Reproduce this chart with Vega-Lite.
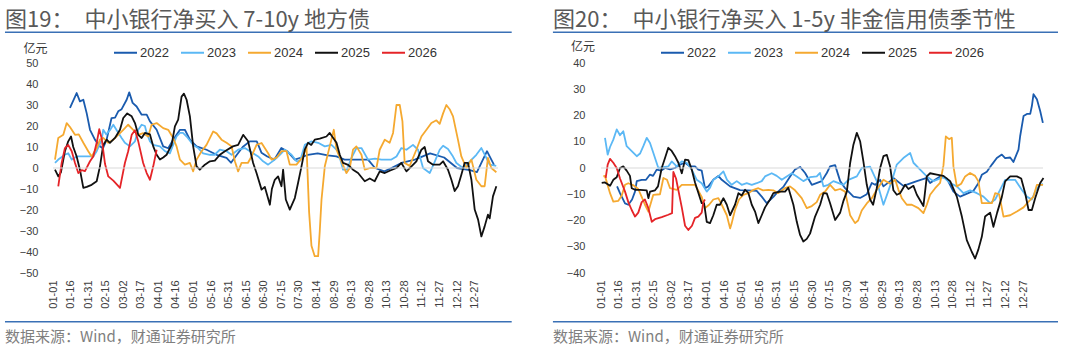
{
  "$schema": "https://vega.github.io/schema/vega-lite/v6.json",
  "background": "white",
  "padding": {"left": 4, "top": 8, "right": 0, "bottom": 0},
  "spacing": 103,
  "bounds": "flush",
  "config": {
    "view": {"stroke": null},
    "axis": {"labelFont": "Liberation Sans", "labelFontSize": 11, "labelColor": "#404040", "labelOverlap": false, "labelFlush": false, "domain": false, "ticks": false, "tickSize": 0, "grid": false, "title": null},
    "legend": {"labelFont": "Liberation Sans", "labelFontSize": 13, "labelColor": "#333333"}
  },
  "resolve": {"scale": {"x": "independent", "y": "independent", "color": "independent"}, "legend": {"color": "independent"}},
  "hconcat": [
    {
      "width": 445,
      "height": 210,
      "title": {"text": "图19：　中小银行净买入 7-10y 地方债", "anchor": "start", "frame": "group", "dx": -48, "offset": 0, "font": "Noto Sans CJK SC", "fontSize": 22, "fontWeight": "normal", "color": "#595959"},
      "layer": [
        {
          "data": {"values": [
            {"d":14.5,"v":28.6,"s":"2022"},{"d":20.2,"v":35.7,"s":"2022"},{"d":23,"v":31.7,"s":"2022"},{"d":25.9,"v":32.5,"s":"2022"},{"d":28.8,"v":26,"s":"2022"},{"d":31.6,"v":18.2,"s":"2022"},{"d":35.8,"v":13.5,"s":"2022"},{"d":40.1,"v":10.3,"s":"2022"},{"d":42.7,"v":9.4,"s":"2022"},{"d":45.8,"v":13.5,"s":"2022"},{"d":50,"v":23.8,"s":"2022"},{"d":53,"v":24,"s":"2022"},{"d":55.7,"v":27,"s":"2022"},{"d":58.6,"v":28,"s":"2022"},{"d":62.9,"v":32.5,"s":"2022"},{"d":65.1,"v":36,"s":"2022"},{"d":68,"v":31,"s":"2022"},{"d":71.4,"v":29.3,"s":"2022"},{"d":75.7,"v":25.4,"s":"2022"},{"d":80,"v":25.4,"s":"2022"},{"d":82.8,"v":22.2,"s":"2022"},{"d":88.5,"v":18.2,"s":"2022"},{"d":94.1,"v":10.3,"s":"2022"},{"d":98.4,"v":9.4,"s":"2022"},{"d":102.6,"v":13.5,"s":"2022"},{"d":108.4,"v":18.2,"s":"2022"},{"d":112.6,"v":18.2,"s":"2022"},{"d":116.9,"v":13.5,"s":"2022"},{"d":122.6,"v":10.3,"s":"2022"},{"d":131.1,"v":8.7,"s":"2022"},{"d":139.7,"v":6.3,"s":"2022"},{"d":148.2,"v":4.8,"s":"2022"},{"d":152,"v":2.5,"s":"2022"},{"d":157,"v":6.3,"s":"2022"},{"d":162,"v":10,"s":"2022"},{"d":168,"v":12.7,"s":"2022"},{"d":174,"v":12.7,"s":"2022"},{"d":178,"v":7.3,"s":"2022"},{"d":183,"v":5.5,"s":"2022"},{"d":189,"v":4,"s":"2022"},{"d":195,"v":9.5,"s":"2022"},{"d":200,"v":8,"s":"2022"},{"d":206.5,"v":4,"s":"2022"},{"d":212,"v":5,"s":"2022"},{"d":217.6,"v":6.3,"s":"2022"},{"d":226,"v":7,"s":"2022"},{"d":234.6,"v":6,"s":"2022"},{"d":242,"v":5.5,"s":"2022"},{"d":249,"v":4,"s":"2022"},{"d":260,"v":4,"s":"2022"},{"d":269,"v":4,"s":"2022"},{"d":275,"v":0,"s":"2022"},{"d":283,"v":-1.6,"s":"2022"},{"d":289,"v":0,"s":"2022"},{"d":297.5,"v":2.4,"s":"2022"},{"d":309,"v":4,"s":"2022"},{"d":322,"v":7,"s":"2022"},{"d":334,"v":5,"s":"2022"},{"d":345,"v":0,"s":"2022"},{"d":356,"v":-1,"s":"2022"},{"d":362,"v":-2,"s":"2022"},{"d":370.6,"v":8,"s":"2022"},{"d":376.6,"v":1.5,"s":"2022"},
            {"d":1.7,"v":2.4,"s":"2023"},{"d":4.5,"v":4,"s":"2023"},{"d":10.2,"v":6.3,"s":"2023"},{"d":13,"v":7,"s":"2023"},{"d":16,"v":4,"s":"2023"},{"d":20.2,"v":5.5,"s":"2023"},{"d":25,"v":5.5,"s":"2023"},{"d":30,"v":5.5,"s":"2023"},{"d":34.4,"v":5.5,"s":"2023"},{"d":37.3,"v":8,"s":"2023"},{"d":41.6,"v":13.5,"s":"2023"},{"d":42.9,"v":18.2,"s":"2023"},{"d":45.5,"v":16,"s":"2023"},{"d":48.6,"v":18,"s":"2023"},{"d":51.5,"v":20.6,"s":"2023"},{"d":54.4,"v":18,"s":"2023"},{"d":58.6,"v":14.3,"s":"2023"},{"d":61.4,"v":12,"s":"2023"},{"d":65.7,"v":10.3,"s":"2023"},{"d":70,"v":12.7,"s":"2023"},{"d":72.8,"v":18.2,"s":"2023"},{"d":75.7,"v":20.6,"s":"2023"},{"d":78.5,"v":20,"s":"2023"},{"d":80,"v":16.7,"s":"2023"},{"d":82.8,"v":12.7,"s":"2023"},{"d":85.6,"v":11,"s":"2023"},{"d":91.3,"v":10.3,"s":"2023"},{"d":95.6,"v":8,"s":"2023"},{"d":99.8,"v":7,"s":"2023"},{"d":102.6,"v":11,"s":"2023"},{"d":105.5,"v":15,"s":"2023"},{"d":108.4,"v":16.7,"s":"2023"},{"d":111,"v":16.7,"s":"2023"},{"d":114.1,"v":15,"s":"2023"},{"d":117,"v":13,"s":"2023"},{"d":119.7,"v":11,"s":"2023"},{"d":124,"v":9.5,"s":"2023"},{"d":128.2,"v":7,"s":"2023"},{"d":134,"v":6.3,"s":"2023"},{"d":138,"v":6.3,"s":"2023"},{"d":142.5,"v":8.7,"s":"2023"},{"d":148.2,"v":8,"s":"2023"},{"d":152.5,"v":6.3,"s":"2023"},{"d":158.1,"v":8.7,"s":"2023"},{"d":163.8,"v":9.5,"s":"2023"},{"d":169.5,"v":7.5,"s":"2023"},{"d":175.2,"v":5.5,"s":"2023"},{"d":179.4,"v":3.2,"s":"2023"},{"d":183.7,"v":1.6,"s":"2023"},{"d":189.4,"v":4,"s":"2023"},{"d":193.7,"v":6.3,"s":"2023"},{"d":198,"v":8.7,"s":"2023"},{"d":203.7,"v":6.3,"s":"2023"},{"d":207.9,"v":3.2,"s":"2023"},{"d":211,"v":3.5,"s":"2023"},{"d":215,"v":11,"s":"2023"},{"d":220.7,"v":12.7,"s":"2023"},{"d":226.4,"v":12,"s":"2023"},{"d":232.1,"v":10.3,"s":"2023"},{"d":237.8,"v":11,"s":"2023"},{"d":243.4,"v":8,"s":"2023"},{"d":247.7,"v":-0.8,"s":"2023"},{"d":251,"v":-0.8,"s":"2023"},{"d":254.9,"v":4.8,"s":"2023"},{"d":259.1,"v":9.5,"s":"2023"},{"d":263.4,"v":9.5,"s":"2023"},{"d":269,"v":4,"s":"2023"},{"d":275,"v":4.5,"s":"2023"},{"d":280.5,"v":4,"s":"2023"},{"d":289,"v":4,"s":"2023"},{"d":293.3,"v":5.5,"s":"2023"},{"d":297.5,"v":9.5,"s":"2023"},{"d":301.8,"v":8.7,"s":"2023"},{"d":307.4,"v":11,"s":"2023"},{"d":311.7,"v":8.7,"s":"2023"},{"d":316,"v":0,"s":"2023"},{"d":321.7,"v":-2.4,"s":"2023"},{"d":326,"v":3,"s":"2023"},{"d":330.2,"v":8.7,"s":"2023"},{"d":333.1,"v":10.6,"s":"2023"},{"d":337.3,"v":9,"s":"2023"},{"d":341,"v":6,"s":"2023"},{"d":344.5,"v":2.4,"s":"2023"},{"d":350,"v":0,"s":"2023"},{"d":355.8,"v":3,"s":"2023"},{"d":361.5,"v":6.3,"s":"2023"},{"d":365.8,"v":9.5,"s":"2023"},{"d":369,"v":6,"s":"2023"},{"d":372.9,"v":1.6,"s":"2023"},{"d":378.5,"v":1,"s":"2023"},
            {"d":1.7,"v":4,"s":"2024"},{"d":4.5,"v":14.3,"s":"2024"},{"d":8.8,"v":15.8,"s":"2024"},{"d":11.7,"v":21.4,"s":"2024"},{"d":14.5,"v":19.5,"s":"2024"},{"d":18.8,"v":15.8,"s":"2024"},{"d":22,"v":16,"s":"2024"},{"d":25.9,"v":12,"s":"2024"},{"d":30.1,"v":8,"s":"2024"},{"d":33,"v":5.5,"s":"2024"},{"d":37.3,"v":9.5,"s":"2024"},{"d":40.1,"v":13.5,"s":"2024"},{"d":42.9,"v":14.3,"s":"2024"},{"d":47.2,"v":12,"s":"2024"},{"d":51.5,"v":13.5,"s":"2024"},{"d":55.7,"v":15.8,"s":"2024"},{"d":60,"v":18.2,"s":"2024"},{"d":64.2,"v":20.6,"s":"2024"},{"d":68.5,"v":18.2,"s":"2024"},{"d":72.8,"v":15.8,"s":"2024"},{"d":77,"v":16.6,"s":"2024"},{"d":81.3,"v":15,"s":"2024"},{"d":84.2,"v":20.6,"s":"2024"},{"d":88.5,"v":21.4,"s":"2024"},{"d":94.1,"v":19,"s":"2024"},{"d":98.4,"v":18.2,"s":"2024"},{"d":102.6,"v":14.3,"s":"2024"},{"d":105.5,"v":10.3,"s":"2024"},{"d":108.4,"v":4,"s":"2024"},{"d":112.6,"v":1.6,"s":"2024"},{"d":116.9,"v":2.4,"s":"2024"},{"d":119.7,"v":-1.6,"s":"2024"},{"d":122.6,"v":4,"s":"2024"},{"d":126.9,"v":8,"s":"2024"},{"d":131.1,"v":11,"s":"2024"},{"d":136.8,"v":17.4,"s":"2024"},{"d":139.7,"v":16.5,"s":"2024"},{"d":143.9,"v":13.5,"s":"2024"},{"d":148.2,"v":12,"s":"2024"},{"d":152.5,"v":10.3,"s":"2024"},{"d":155.3,"v":3.2,"s":"2024"},{"d":158.1,"v":-1.6,"s":"2024"},{"d":161,"v":2.4,"s":"2024"},{"d":166.4,"v":2.4,"s":"2024"},{"d":169.5,"v":5.5,"s":"2024"},{"d":173.8,"v":11,"s":"2024"},{"d":178.1,"v":11.9,"s":"2024"},{"d":183.7,"v":7,"s":"2024"},{"d":186.6,"v":4,"s":"2024"},{"d":191,"v":5,"s":"2024"},{"d":195.1,"v":8,"s":"2024"},{"d":199.4,"v":8,"s":"2024"},{"d":202.2,"v":1.6,"s":"2024"},{"d":207.9,"v":1.6,"s":"2024"},{"d":213,"v":5,"s":"2024"},{"d":216.5,"v":10,"s":"2024"},{"d":218.7,"v":-21,"s":"2024"},{"d":220.7,"v":-37,"s":"2024"},{"d":223.5,"v":-42,"s":"2024"},{"d":226.4,"v":-42,"s":"2024"},{"d":227.8,"v":-30,"s":"2024"},{"d":229.3,"v":-15,"s":"2024"},{"d":232.1,"v":0.8,"s":"2024"},{"d":236.3,"v":10.3,"s":"2024"},{"d":239.8,"v":18.2,"s":"2024"},{"d":242.1,"v":8.7,"s":"2024"},{"d":246.3,"v":3.2,"s":"2024"},{"d":250.6,"v":-2.4,"s":"2024"},{"d":253.4,"v":0,"s":"2024"},{"d":256.2,"v":8.7,"s":"2024"},{"d":259.1,"v":10.3,"s":"2024"},{"d":263.4,"v":6.3,"s":"2024"},{"d":266.2,"v":-0.8,"s":"2024"},{"d":271,"v":0,"s":"2024"},{"d":276.2,"v":0,"s":"2024"},{"d":279,"v":8.7,"s":"2024"},{"d":283.3,"v":13.5,"s":"2024"},{"d":287.5,"v":12,"s":"2024"},{"d":290.4,"v":16.7,"s":"2024"},{"d":293.3,"v":30,"s":"2024"},{"d":296.1,"v":30,"s":"2024"},{"d":298.4,"v":22.2,"s":"2024"},{"d":300.3,"v":2.4,"s":"2024"},{"d":304.6,"v":1,"s":"2024"},{"d":310.3,"v":8.7,"s":"2024"},{"d":314.6,"v":15,"s":"2024"},{"d":318.9,"v":18.2,"s":"2024"},{"d":323.1,"v":21.4,"s":"2024"},{"d":327.4,"v":22.7,"s":"2024"},{"d":330.2,"v":21,"s":"2024"},{"d":333.1,"v":26,"s":"2024"},{"d":335.9,"v":30,"s":"2024"},{"d":338.7,"v":28,"s":"2024"},{"d":341.6,"v":24.6,"s":"2024"},{"d":345.8,"v":13.5,"s":"2024"},{"d":348.7,"v":5.5,"s":"2024"},{"d":353,"v":0,"s":"2024"},{"d":357.3,"v":4,"s":"2024"},{"d":361.5,"v":-5.6,"s":"2024"},{"d":365.8,"v":-8.7,"s":"2024"},{"d":368.6,"v":-8.7,"s":"2024"},{"d":371.4,"v":4.8,"s":"2024"},{"d":374.3,"v":0,"s":"2024"},{"d":378.6,"v":-2,"s":"2024"},
            {"d":1.7,"v":-0.8,"s":"2025"},{"d":4.5,"v":-4,"s":"2025"},{"d":6.8,"v":-2,"s":"2025"},{"d":10.2,"v":8,"s":"2025"},{"d":13,"v":12.7,"s":"2025"},{"d":15.4,"v":15,"s":"2025"},{"d":17.3,"v":10,"s":"2025"},{"d":20.2,"v":5.5,"s":"2025"},{"d":23,"v":-0.8,"s":"2025"},{"d":25.9,"v":-9.5,"s":"2025"},{"d":28.8,"v":-9,"s":"2025"},{"d":33,"v":-8,"s":"2025"},{"d":37.3,"v":-6.3,"s":"2025"},{"d":40.1,"v":0.8,"s":"2025"},{"d":42.9,"v":11,"s":"2025"},{"d":45.8,"v":13.5,"s":"2025"},{"d":48.6,"v":12,"s":"2025"},{"d":52.9,"v":14.3,"s":"2025"},{"d":57.2,"v":18.2,"s":"2025"},{"d":60,"v":23.8,"s":"2025"},{"d":63.4,"v":26,"s":"2025"},{"d":67.2,"v":24.6,"s":"2025"},{"d":70,"v":21.4,"s":"2025"},{"d":72.8,"v":15.8,"s":"2025"},{"d":75.7,"v":14.3,"s":"2025"},{"d":78.5,"v":16.7,"s":"2025"},{"d":82.8,"v":16,"s":"2025"},{"d":85.6,"v":10.3,"s":"2025"},{"d":88.5,"v":6.3,"s":"2025"},{"d":91.3,"v":4,"s":"2025"},{"d":94.1,"v":5,"s":"2025"},{"d":97,"v":6.3,"s":"2025"},{"d":101.3,"v":11,"s":"2025"},{"d":104.1,"v":19.8,"s":"2025"},{"d":106.9,"v":23,"s":"2025"},{"d":109.8,"v":34,"s":"2025"},{"d":111.8,"v":35.4,"s":"2025"},{"d":114.1,"v":32.5,"s":"2025"},{"d":116.9,"v":24.6,"s":"2025"},{"d":119.7,"v":10.3,"s":"2025"},{"d":122.6,"v":0.8,"s":"2025"},{"d":125.4,"v":-0.8,"s":"2025"},{"d":129.7,"v":1.6,"s":"2025"},{"d":134,"v":3.2,"s":"2025"},{"d":138.2,"v":3.5,"s":"2025"},{"d":142.5,"v":6.3,"s":"2025"},{"d":146.8,"v":8,"s":"2025"},{"d":153.6,"v":10.3,"s":"2025"},{"d":158.1,"v":11,"s":"2025"},{"d":162.4,"v":15.8,"s":"2025"},{"d":166.6,"v":12.7,"s":"2025"},{"d":170.9,"v":2.4,"s":"2025"},{"d":173.8,"v":-2.4,"s":"2025"},{"d":178.1,"v":-10.3,"s":"2025"},{"d":180.9,"v":-9,"s":"2025"},{"d":185.2,"v":-17.5,"s":"2025"},{"d":186.9,"v":-10,"s":"2025"},{"d":189.4,"v":-5.6,"s":"2025"},{"d":192.2,"v":-4,"s":"2025"},{"d":195.1,"v":-8.7,"s":"2025"},{"d":196.5,"v":-0.8,"s":"2025"},{"d":198.8,"v":-15,"s":"2025"},{"d":202.2,"v":-19.8,"s":"2025"},{"d":206.5,"v":-14.3,"s":"2025"},{"d":209.3,"v":-7,"s":"2025"},{"d":212.2,"v":0.8,"s":"2025"},{"d":215,"v":8.7,"s":"2025"},{"d":217.8,"v":12,"s":"2025"},{"d":220.5,"v":11,"s":"2025"},{"d":223.5,"v":13.5,"s":"2025"},{"d":227.8,"v":14,"s":"2025"},{"d":233.5,"v":15,"s":"2025"},{"d":236.3,"v":16.7,"s":"2025"},{"d":242.1,"v":12,"s":"2025"},{"d":244.9,"v":6.3,"s":"2025"},{"d":247.7,"v":2.4,"s":"2025"},{"d":252,"v":1.5,"s":"2025"},{"d":256.2,"v":-0.8,"s":"2025"},{"d":260.5,"v":-2.4,"s":"2025"},{"d":266.2,"v":-6.3,"s":"2025"},{"d":270.5,"v":-5,"s":"2025"},{"d":274.7,"v":-6.3,"s":"2025"},{"d":279,"v":-1.6,"s":"2025"},{"d":283.3,"v":-2.4,"s":"2025"},{"d":287.5,"v":-1.3,"s":"2025"},{"d":293.3,"v":0,"s":"2025"},{"d":297.5,"v":2.4,"s":"2025"},{"d":301.8,"v":-1.6,"s":"2025"},{"d":306.1,"v":0.8,"s":"2025"},{"d":310.3,"v":3.2,"s":"2025"},{"d":314.6,"v":8.7,"s":"2025"},{"d":317.4,"v":10,"s":"2025"},{"d":320.2,"v":3.2,"s":"2025"},{"d":324.5,"v":1.6,"s":"2025"},{"d":330.2,"v":1.6,"s":"2025"},{"d":333.1,"v":3.2,"s":"2025"},{"d":337.3,"v":-0.8,"s":"2025"},{"d":340.2,"v":-5.6,"s":"2025"},{"d":343,"v":-11,"s":"2025"},{"d":345.8,"v":-8.7,"s":"2025"},{"d":348.7,"v":-3.2,"s":"2025"},{"d":351.5,"v":2.4,"s":"2025"},{"d":354.4,"v":2.4,"s":"2025"},{"d":357.3,"v":-5.6,"s":"2025"},{"d":360.1,"v":-19.8,"s":"2025"},{"d":363,"v":-24.6,"s":"2025"},{"d":365.8,"v":-32.6,"s":"2025"},{"d":368.6,"v":-27.8,"s":"2025"},{"d":371.4,"v":-22.2,"s":"2025"},{"d":372.9,"v":-24,"s":"2025"},{"d":375.7,"v":-13.5,"s":"2025"},{"d":378.6,"v":-8.7,"s":"2025"},
            {"d":4.5,"v":-8.7,"s":"2026"},{"d":7.4,"v":2.4,"s":"2026"},{"d":10.2,"v":9.5,"s":"2026"},{"d":13,"v":11,"s":"2026"},{"d":16,"v":8,"s":"2026"},{"d":18.8,"v":2.4,"s":"2026"},{"d":21.6,"v":-2.4,"s":"2026"},{"d":24.5,"v":-1,"s":"2026"},{"d":27.3,"v":-1.5,"s":"2026"},{"d":31.6,"v":3.2,"s":"2026"},{"d":34.4,"v":5.5,"s":"2026"},{"d":37.3,"v":12,"s":"2026"},{"d":39.5,"v":18.5,"s":"2026"},{"d":41.6,"v":14,"s":"2026"},{"d":44.4,"v":2,"s":"2026"},{"d":47.2,"v":-4,"s":"2026"},{"d":51.5,"v":-6,"s":"2026"},{"d":57.2,"v":-9.5,"s":"2026"},{"d":61.4,"v":2.4,"s":"2026"},{"d":64.2,"v":8,"s":"2026"},{"d":67.2,"v":15.8,"s":"2026"},{"d":70,"v":18,"s":"2026"},{"d":72.8,"v":12.7,"s":"2026"},{"d":77,"v":2.4,"s":"2026"},{"d":80,"v":-2.4,"s":"2026"},{"d":82.8,"v":-5.6,"s":"2026"},{"d":85.6,"v":0.8,"s":"2026"},{"d":88.5,"v":8.7,"s":"2026"}
          ]},
          "mark": {"type": "line", "strokeWidth": 1.8, "strokeJoin": "round", "clip": false},
          "encoding": {
            "x": {"field": "d", "type": "quantitative", "scale": {"domain": [0, 380], "nice": false, "zero": false},
              "axis": {"values": [0,15,30,45,60,75,90,105,120,135,150,165,180,195,210,225,240,255,270,285,300,315,330,345,360], "tickCount": 40,
                "labelExpr": "['01-01','01-16','01-31','02-15','03-02','03-17','04-01','04-16','05-01','05-16','05-31','06-15','06-30','07-15','07-30','08-14','08-29','09-13','09-28','10-13','10-28','11-12','11-27','12-12','12-27'][round(datum.value/15)]",
                "labelAngle": 270, "labelPadding": 7}},
            "y": {"field": "v", "type": "quantitative", "scale": {"domain": [-50, 50], "nice": false, "zero": false},
              "axis": {"values": [-50,-40,-30,-20,-10,0,10,20,30,40,50], "tickCount": 20, "labelPadding": 15}},
            "color": {"field": "s", "type": "nominal",
              "scale": {"domain": ["2022","2023","2024","2025","2026"], "range": ["#1A5BAE","#5BB8F5","#F5A930","#111111","#E52428"]},
              "legend": {"orient": "none", "legendX": 60, "legendY": -23, "direction": "horizontal", "title": null, "symbolType": "stroke", "symbolSize": 529, "symbolStrokeWidth": 2, "labelOffset": 2, "columnPadding": 8, "padding": 0}}
          }
        },
        {
          "data": {"values": [{}]},
          "mark": {"type": "rule", "color": "#D9D9D9", "strokeWidth": 1, "clip": false},
          "encoding": {"x": {"datum": 0}, "x2": {"datum": 380}, "y": {"datum": 0}}
        },
        {
          "data": {"values": [{}]},
          "mark": {"type": "rule", "color": "#3A70B5", "strokeWidth": 1.5, "clip": false},
          "encoding": {"x": {"datum": -41}, "x2": {"datum": 391.7}, "y": {"datum": 64.6}}
        },
        {
          "data": {"values": [{}]},
          "mark": {"type": "rule", "color": "#3A70B5", "strokeWidth": 1.5, "clip": false},
          "encoding": {"x": {"datum": -41}, "x2": {"datum": 391.7}, "y": {"datum": -73.2}}
        },
        {
          "data": {"values": [{}]},
          "mark": {"type": "text", "text": "数据来源：Wind，财通证券研究所", "align": "left", "baseline": "middle", "font": "Noto Sans CJK SC", "fontSize": 15, "color": "#7F7F7F", "clip": false},
          "encoding": {"x": {"datum": -41}, "y": {"datum": -80.3}}
        },
        {
          "data": {"values": [{}]},
          "mark": {"type": "text", "text": "亿元", "align": "center", "baseline": "middle", "font": "Noto Sans CJK SC", "fontSize": 12, "color": "#333333", "clip": false},
          "encoding": {"x": {"datum": -15}, "y": {"datum": 56.6}}
        }
      ]
    },
    {
      "width": 442,
      "height": 210,
      "title": {"text": "图20：　中小银行净买入 1-5y 非金信用债季节性", "anchor": "start", "frame": "group", "dx": -48, "offset": 0, "font": "Noto Sans CJK SC", "fontSize": 22, "fontWeight": "normal", "color": "#595959"},
      "layer": [
        {
          "data": {"values": [
            {"d":13.7,"v":-7,"s":"2022"},{"d":16.2,"v":-9.6,"s":"2022"},{"d":20.5,"v":-13.5,"s":"2022"},{"d":23.3,"v":-14,"s":"2022"},{"d":26.5,"v":-12,"s":"2022"},{"d":29,"v":-9,"s":"2022"},{"d":30.5,"v":-5,"s":"2022"},{"d":34.7,"v":-4.5,"s":"2022"},{"d":38.4,"v":-4.5,"s":"2022"},{"d":41.8,"v":-2.5,"s":"2022"},{"d":44.4,"v":-3,"s":"2022"},{"d":47.5,"v":-0.6,"s":"2022"},{"d":51.2,"v":-1,"s":"2022"},{"d":54.6,"v":0,"s":"2022"},{"d":58.9,"v":-0.5,"s":"2022"},{"d":63.1,"v":0,"s":"2022"},{"d":67.4,"v":1.3,"s":"2022"},{"d":71.7,"v":2,"s":"2022"},{"d":75.9,"v":0.6,"s":"2022"},{"d":80.2,"v":0.6,"s":"2022"},{"d":83,"v":-0.6,"s":"2022"},{"d":85.9,"v":-1,"s":"2022"},{"d":88.7,"v":-7.7,"s":"2022"},{"d":91.6,"v":-7,"s":"2022"},{"d":95.8,"v":-4.5,"s":"2022"},{"d":100.1,"v":-3,"s":"2022"},{"d":103,"v":-4.5,"s":"2022"},{"d":110.1,"v":-7,"s":"2022"},{"d":118.6,"v":-8.4,"s":"2022"},{"d":125.4,"v":-8.5,"s":"2022"},{"d":132.8,"v":-8.7,"s":"2022"},{"d":137.1,"v":-10.9,"s":"2022"},{"d":141.4,"v":-13.4,"s":"2022"},{"d":147,"v":-11,"s":"2022"},{"d":151,"v":-9,"s":"2022"},{"d":155.5,"v":-7.2,"s":"2022"},{"d":161.3,"v":-3.2,"s":"2022"},{"d":165.5,"v":-0.6,"s":"2022"},{"d":169.8,"v":0.4,"s":"2022"},{"d":174.1,"v":-1.9,"s":"2022"},{"d":179.8,"v":-6.4,"s":"2022"},{"d":188.3,"v":-5,"s":"2022"},{"d":192.6,"v":-1.9,"s":"2022"},{"d":195.4,"v":0.6,"s":"2022"},{"d":199.7,"v":1.1,"s":"2022"},{"d":204,"v":-5,"s":"2022"},{"d":208.2,"v":-7.7,"s":"2022"},{"d":215.3,"v":-10.9,"s":"2022"},{"d":221,"v":-11.4,"s":"2022"},{"d":226.7,"v":-10,"s":"2022"},{"d":231,"v":-5.7,"s":"2022"},{"d":233.8,"v":-6.4,"s":"2022"},{"d":238.1,"v":-4.5,"s":"2022"},{"d":240.9,"v":-7,"s":"2022"},{"d":246.6,"v":-5,"s":"2022"},{"d":249.4,"v":-3.8,"s":"2022"},{"d":257.9,"v":-6.8,"s":"2022"},{"d":269.4,"v":-5,"s":"2022"},{"d":277.9,"v":-3.8,"s":"2022"},{"d":280.7,"v":-5.7,"s":"2022"},{"d":289.2,"v":-3.2,"s":"2022"},{"d":295,"v":-4,"s":"2022"},{"d":300.6,"v":-9,"s":"2022"},{"d":306.3,"v":-10.9,"s":"2022"},{"d":317.7,"v":-8.7,"s":"2022"},{"d":322,"v":-5.7,"s":"2022"},{"d":324.8,"v":-2.6,"s":"2022"},{"d":329.1,"v":-1.4,"s":"2022"},{"d":333.4,"v":1.3,"s":"2022"},{"d":337.6,"v":3.8,"s":"2022"},{"d":341.9,"v":5.1,"s":"2022"},{"d":344.7,"v":3.8,"s":"2022"},{"d":349,"v":4,"s":"2022"},{"d":351.8,"v":2.3,"s":"2022"},{"d":356.1,"v":7,"s":"2022"},{"d":357.5,"v":12.1,"s":"2022"},{"d":360.4,"v":19.8,"s":"2022"},{"d":363.3,"v":20.6,"s":"2022"},{"d":366.1,"v":20.6,"s":"2022"},{"d":367.5,"v":23.6,"s":"2022"},{"d":368.9,"v":28.1,"s":"2022"},{"d":371.8,"v":26.2,"s":"2022"},{"d":374.6,"v":21.7,"s":"2022"},{"d":376.9,"v":17.2,"s":"2022"},
            {"d":3.4,"v":11.5,"s":"2023"},{"d":5.7,"v":5.1,"s":"2023"},{"d":7.7,"v":8,"s":"2023"},{"d":10.5,"v":10.8,"s":"2023"},{"d":13.4,"v":14.7,"s":"2023"},{"d":16.2,"v":12.5,"s":"2023"},{"d":19,"v":14,"s":"2023"},{"d":21.9,"v":8.3,"s":"2023"},{"d":26.2,"v":6.4,"s":"2023"},{"d":30.5,"v":4.5,"s":"2023"},{"d":33.3,"v":5.5,"s":"2023"},{"d":36.1,"v":8.3,"s":"2023"},{"d":39,"v":11.5,"s":"2023"},{"d":41.8,"v":9.5,"s":"2023"},{"d":44.6,"v":5.8,"s":"2023"},{"d":48.9,"v":0,"s":"2023"},{"d":53.2,"v":0.3,"s":"2023"},{"d":57.4,"v":0.6,"s":"2023"},{"d":60.3,"v":2.5,"s":"2023"},{"d":64.6,"v":0.6,"s":"2023"},{"d":68.9,"v":2.5,"s":"2023"},{"d":73.1,"v":2,"s":"2023"},{"d":77.4,"v":-0.6,"s":"2023"},{"d":81.7,"v":-4.5,"s":"2023"},{"d":85.9,"v":-5.8,"s":"2023"},{"d":90.2,"v":-9,"s":"2023"},{"d":93,"v":-7.5,"s":"2023"},{"d":95.8,"v":-4.5,"s":"2023"},{"d":100.1,"v":-3.2,"s":"2023"},{"d":104.4,"v":-1.3,"s":"2023"},{"d":107.5,"v":-4.5,"s":"2023"},{"d":111.5,"v":-6.4,"s":"2023"},{"d":115.8,"v":-5,"s":"2023"},{"d":120,"v":-6.4,"s":"2023"},{"d":124.3,"v":-5.8,"s":"2023"},{"d":128.6,"v":-6.4,"s":"2023"},{"d":132.8,"v":-5.8,"s":"2023"},{"d":137.1,"v":-5,"s":"2023"},{"d":139.9,"v":-3.2,"s":"2023"},{"d":145.6,"v":-2,"s":"2023"},{"d":149.9,"v":-3,"s":"2023"},{"d":154.2,"v":-4.5,"s":"2023"},{"d":158.4,"v":-3.2,"s":"2023"},{"d":162.7,"v":-2,"s":"2023"},{"d":167,"v":-3.2,"s":"2023"},{"d":172.6,"v":-5,"s":"2023"},{"d":178.3,"v":-3.5,"s":"2023"},{"d":184,"v":-3.2,"s":"2023"},{"d":186.8,"v":-1.9,"s":"2023"},{"d":189.7,"v":-7,"s":"2023"},{"d":193.9,"v":-6.4,"s":"2023"},{"d":198.2,"v":-5,"s":"2023"},{"d":206.7,"v":-6.4,"s":"2023"},{"d":211,"v":-4.5,"s":"2023"},{"d":218.2,"v":-3.2,"s":"2023"},{"d":222.4,"v":0,"s":"2023"},{"d":229.5,"v":0.5,"s":"2023"},{"d":235.2,"v":-5,"s":"2023"},{"d":240.9,"v":-14,"s":"2023"},{"d":244.9,"v":-9,"s":"2023"},{"d":248,"v":-5,"s":"2023"},{"d":252.3,"v":1.3,"s":"2023"},{"d":257.9,"v":3.8,"s":"2023"},{"d":263.7,"v":5.7,"s":"2023"},{"d":266.5,"v":2,"s":"2023"},{"d":272.2,"v":-0.6,"s":"2023"},{"d":277.9,"v":-3.2,"s":"2023"},{"d":283.5,"v":-5,"s":"2023"},{"d":292.1,"v":-3.5,"s":"2023"},{"d":297.8,"v":-5.7,"s":"2023"},{"d":303.5,"v":-7,"s":"2023"},{"d":309.1,"v":-9.6,"s":"2023"},{"d":314.8,"v":-8.5,"s":"2023"},{"d":320.6,"v":-9.6,"s":"2023"},{"d":326.2,"v":-10.9,"s":"2023"},{"d":331.9,"v":-13.4,"s":"2023"},{"d":336.2,"v":-12,"s":"2023"},{"d":340.4,"v":-8.3,"s":"2023"},{"d":344.7,"v":-4.5,"s":"2023"},{"d":353.2,"v":-4.5,"s":"2023"},{"d":358.9,"v":-8.3,"s":"2023"},{"d":363.2,"v":-10.9,"s":"2023"},{"d":367.5,"v":-12,"s":"2023"},{"d":370.3,"v":-9,"s":"2023"},{"d":373.2,"v":-7,"s":"2023"},{"d":376.9,"v":-6,"s":"2023"},
            {"d":2,"v":-3.2,"s":"2024"},{"d":3.4,"v":-3,"s":"2024"},{"d":7.7,"v":-9.6,"s":"2024"},{"d":10.5,"v":-12.8,"s":"2024"},{"d":14.8,"v":-12.5,"s":"2024"},{"d":17.7,"v":-10.5,"s":"2024"},{"d":20.5,"v":-6.4,"s":"2024"},{"d":23.3,"v":-5.8,"s":"2024"},{"d":27.3,"v":-6.5,"s":"2024"},{"d":31.8,"v":-8,"s":"2024"},{"d":34.7,"v":-11,"s":"2024"},{"d":37.5,"v":-14,"s":"2024"},{"d":40.4,"v":-16.6,"s":"2024"},{"d":44.6,"v":-10.2,"s":"2024"},{"d":50.3,"v":-10,"s":"2024"},{"d":53.2,"v":-3.8,"s":"2024"},{"d":56.3,"v":-4.5,"s":"2024"},{"d":58.9,"v":-7.7,"s":"2024"},{"d":64.6,"v":-8.3,"s":"2024"},{"d":68.9,"v":-6.4,"s":"2024"},{"d":74.5,"v":-6.4,"s":"2024"},{"d":80.2,"v":-6.4,"s":"2024"},{"d":85.9,"v":-11,"s":"2024"},{"d":88.7,"v":-15.3,"s":"2024"},{"d":92.2,"v":-14,"s":"2024"},{"d":95.8,"v":-12,"s":"2024"},{"d":100.1,"v":-11.5,"s":"2024"},{"d":103,"v":-14,"s":"2024"},{"d":107.3,"v":-18,"s":"2024"},{"d":110.1,"v":-23,"s":"2024"},{"d":111.5,"v":-21,"s":"2024"},{"d":114.3,"v":-16,"s":"2024"},{"d":117.7,"v":-12,"s":"2024"},{"d":121.4,"v":-10.2,"s":"2024"},{"d":125.7,"v":-9.6,"s":"2024"},{"d":130,"v":-8.3,"s":"2024"},{"d":134.2,"v":-7.7,"s":"2024"},{"d":138.2,"v":-8.5,"s":"2024"},{"d":142.7,"v":-8.3,"s":"2024"},{"d":147,"v":-8.5,"s":"2024"},{"d":151,"v":-9.6,"s":"2024"},{"d":156.9,"v":-7.7,"s":"2024"},{"d":161.2,"v":-7,"s":"2024"},{"d":165.5,"v":-8.5,"s":"2024"},{"d":171.2,"v":-11.5,"s":"2024"},{"d":175.5,"v":-15.3,"s":"2024"},{"d":179.8,"v":-14.5,"s":"2024"},{"d":184,"v":-13,"s":"2024"},{"d":186.9,"v":-10.2,"s":"2024"},{"d":191.1,"v":-9,"s":"2024"},{"d":195.4,"v":-6.4,"s":"2024"},{"d":199.7,"v":-8.5,"s":"2024"},{"d":204,"v":-8,"s":"2024"},{"d":208.2,"v":-9,"s":"2024"},{"d":212.5,"v":-18,"s":"2024"},{"d":216.7,"v":-21,"s":"2024"},{"d":219.3,"v":-20,"s":"2024"},{"d":222.4,"v":-16.2,"s":"2024"},{"d":226.7,"v":-13.5,"s":"2024"},{"d":231,"v":-11.5,"s":"2024"},{"d":235.2,"v":-8.3,"s":"2024"},{"d":240.9,"v":-4.5,"s":"2024"},{"d":246.6,"v":-6,"s":"2024"},{"d":250.9,"v":-4.5,"s":"2024"},{"d":253.7,"v":-8.3,"s":"2024"},{"d":256.6,"v":-11.5,"s":"2024"},{"d":260.8,"v":-14,"s":"2024"},{"d":265.1,"v":-14,"s":"2024"},{"d":270.7,"v":-15.3,"s":"2024"},{"d":275,"v":-17.2,"s":"2024"},{"d":277.9,"v":-14,"s":"2024"},{"d":280.7,"v":-10.2,"s":"2024"},{"d":285,"v":-7.7,"s":"2024"},{"d":289.2,"v":-5.7,"s":"2024"},{"d":292.1,"v":1,"s":"2024"},{"d":294.1,"v":12,"s":"2024"},{"d":296.9,"v":11,"s":"2024"},{"d":299.2,"v":11.5,"s":"2024"},{"d":300.6,"v":0.6,"s":"2024"},{"d":303.5,"v":-7,"s":"2024"},{"d":307.2,"v":-6,"s":"2024"},{"d":310.6,"v":-3.2,"s":"2024"},{"d":314.8,"v":-1.9,"s":"2024"},{"d":319.1,"v":-3,"s":"2024"},{"d":321.9,"v":-5.1,"s":"2024"},{"d":324.8,"v":-13.4,"s":"2024"},{"d":333.4,"v":-13.4,"s":"2024"},{"d":336.2,"v":-9.6,"s":"2024"},{"d":339.6,"v":-10,"s":"2024"},{"d":343.3,"v":-18.5,"s":"2024"},{"d":349,"v":-18,"s":"2024"},{"d":354.7,"v":-16.6,"s":"2024"},{"d":360.4,"v":-15,"s":"2024"},{"d":364.3,"v":-13,"s":"2024"},{"d":368.9,"v":-10.9,"s":"2024"},{"d":371.8,"v":-6.4,"s":"2024"},{"d":377,"v":-6.4,"s":"2024"},
            {"d":0.6,"v":-5.7,"s":"2025"},{"d":3.4,"v":-5.5,"s":"2025"},{"d":7.7,"v":-6.8,"s":"2025"},{"d":10.5,"v":-4.5,"s":"2025"},{"d":13.4,"v":-3.5,"s":"2025"},{"d":16.2,"v":0,"s":"2025"},{"d":19,"v":0.6,"s":"2025"},{"d":21.9,"v":-1,"s":"2025"},{"d":24.7,"v":-3,"s":"2025"},{"d":26.2,"v":-7.7,"s":"2025"},{"d":29,"v":-8.3,"s":"2025"},{"d":33.3,"v":-8.3,"s":"2025"},{"d":39,"v":-8.5,"s":"2025"},{"d":40.4,"v":-11.5,"s":"2025"},{"d":41.8,"v":-9,"s":"2025"},{"d":46.1,"v":-8.5,"s":"2025"},{"d":48.6,"v":-7,"s":"2025"},{"d":51.8,"v":0,"s":"2025"},{"d":54.6,"v":3.8,"s":"2025"},{"d":57.4,"v":7.7,"s":"2025"},{"d":60.3,"v":6.5,"s":"2025"},{"d":63.1,"v":4.5,"s":"2025"},{"d":66,"v":2,"s":"2025"},{"d":68.9,"v":-2,"s":"2025"},{"d":71.7,"v":3.2,"s":"2025"},{"d":74.5,"v":3,"s":"2025"},{"d":77.4,"v":-0.6,"s":"2025"},{"d":80.2,"v":-5.5,"s":"2025"},{"d":83,"v":-9.4,"s":"2025"},{"d":85.9,"v":-13.4,"s":"2025"},{"d":87.9,"v":-13.4,"s":"2025"},{"d":90.2,"v":-20.5,"s":"2025"},{"d":93,"v":-21,"s":"2025"},{"d":95.8,"v":-18,"s":"2025"},{"d":98.7,"v":-14,"s":"2025"},{"d":101.5,"v":-14,"s":"2025"},{"d":104.4,"v":-11.5,"s":"2025"},{"d":107.3,"v":-14,"s":"2025"},{"d":110.1,"v":-18,"s":"2025"},{"d":114.3,"v":-14,"s":"2025"},{"d":117.2,"v":-9.6,"s":"2025"},{"d":120,"v":-10.5,"s":"2025"},{"d":122.9,"v":-8.3,"s":"2025"},{"d":125.7,"v":-9.5,"s":"2025"},{"d":128.6,"v":-14,"s":"2025"},{"d":131.4,"v":-16.6,"s":"2025"},{"d":134.2,"v":-21,"s":"2025"},{"d":137.1,"v":-18,"s":"2025"},{"d":139.9,"v":-15,"s":"2025"},{"d":144.2,"v":-12,"s":"2025"},{"d":147,"v":-9.6,"s":"2025"},{"d":152.7,"v":-9,"s":"2025"},{"d":157,"v":-9,"s":"2025"},{"d":159.8,"v":-7.5,"s":"2025"},{"d":164.1,"v":-14,"s":"2025"},{"d":167,"v":-20.5,"s":"2025"},{"d":169.8,"v":-25.5,"s":"2025"},{"d":172.6,"v":-28,"s":"2025"},{"d":175.5,"v":-27,"s":"2025"},{"d":178.3,"v":-25,"s":"2025"},{"d":182.6,"v":-18.5,"s":"2025"},{"d":186.9,"v":-14,"s":"2025"},{"d":189.7,"v":-9.6,"s":"2025"},{"d":192.6,"v":-9.7,"s":"2025"},{"d":195.4,"v":-13.4,"s":"2025"},{"d":199.7,"v":-19.8,"s":"2025"},{"d":204,"v":-17,"s":"2025"},{"d":206.8,"v":-12.5,"s":"2025"},{"d":209.7,"v":-9,"s":"2025"},{"d":212.5,"v":1.9,"s":"2025"},{"d":215.3,"v":8.9,"s":"2025"},{"d":218.2,"v":13.4,"s":"2025"},{"d":221,"v":10.2,"s":"2025"},{"d":223.8,"v":2.5,"s":"2025"},{"d":226.7,"v":-6.4,"s":"2025"},{"d":229.5,"v":-12,"s":"2025"},{"d":232.1,"v":-14,"s":"2025"},{"d":235.2,"v":-7.7,"s":"2025"},{"d":238.1,"v":0,"s":"2025"},{"d":240.9,"v":4.5,"s":"2025"},{"d":243.8,"v":5,"s":"2025"},{"d":246.6,"v":0.6,"s":"2025"},{"d":249.4,"v":-8.5,"s":"2025"},{"d":252.3,"v":-10.2,"s":"2025"},{"d":255.1,"v":-9.6,"s":"2025"},{"d":259.4,"v":-6.4,"s":"2025"},{"d":262.2,"v":-8,"s":"2025"},{"d":266.5,"v":-6.8,"s":"2025"},{"d":269.4,"v":-10.2,"s":"2025"},{"d":275,"v":-14.5,"s":"2025"},{"d":277.9,"v":-3.2,"s":"2025"},{"d":280.7,"v":-2,"s":"2025"},{"d":286.4,"v":-2.5,"s":"2025"},{"d":292.1,"v":-3,"s":"2025"},{"d":297.8,"v":-5,"s":"2025"},{"d":303.5,"v":-10.9,"s":"2025"},{"d":307.8,"v":-18.5,"s":"2025"},{"d":312,"v":-27.5,"s":"2025"},{"d":316.3,"v":-32,"s":"2025"},{"d":319.1,"v":-34.5,"s":"2025"},{"d":321.9,"v":-31,"s":"2025"},{"d":324.8,"v":-26.2,"s":"2025"},{"d":327.6,"v":-18.5,"s":"2025"},{"d":331.9,"v":-17,"s":"2025"},{"d":334.7,"v":-22.4,"s":"2025"},{"d":337.9,"v":-17,"s":"2025"},{"d":341.9,"v":-11,"s":"2025"},{"d":344.7,"v":-5.1,"s":"2025"},{"d":349,"v":-3.2,"s":"2025"},{"d":354.7,"v":-3.2,"s":"2025"},{"d":358.4,"v":-4,"s":"2025"},{"d":361.8,"v":-9.6,"s":"2025"},{"d":364.7,"v":-16,"s":"2025"},{"d":367.5,"v":-16,"s":"2025"},{"d":370.3,"v":-11.5,"s":"2025"},{"d":374.6,"v":-5.7,"s":"2025"},{"d":377.4,"v":-3.8,"s":"2025"},
            {"d":4,"v":-3.8,"s":"2026"},{"d":5.7,"v":1.3,"s":"2026"},{"d":7.7,"v":3.5,"s":"2026"},{"d":10.5,"v":2,"s":"2026"},{"d":13.4,"v":0,"s":"2026"},{"d":16.2,"v":-4,"s":"2026"},{"d":20.5,"v":-9,"s":"2026"},{"d":23.3,"v":-13,"s":"2026"},{"d":26.2,"v":-16,"s":"2026"},{"d":29,"v":-18.5,"s":"2026"},{"d":31.8,"v":-17,"s":"2026"},{"d":34.7,"v":-13,"s":"2026"},{"d":37.5,"v":-12,"s":"2026"},{"d":40.4,"v":-15.3,"s":"2026"},{"d":43.3,"v":-20.5,"s":"2026"},{"d":46.1,"v":-19.5,"s":"2026"},{"d":51.8,"v":-18.7,"s":"2026"},{"d":57.4,"v":-17.8,"s":"2026"},{"d":60.6,"v":-17.2,"s":"2026"},{"d":61.7,"v":-1.5,"s":"2026"},{"d":64,"v":-4,"s":"2026"},{"d":68.9,"v":-15,"s":"2026"},{"d":71.7,"v":-22,"s":"2026"},{"d":74.5,"v":-23.6,"s":"2026"},{"d":77.6,"v":-22,"s":"2026"},{"d":80.2,"v":-19,"s":"2026"},{"d":83,"v":-18.5,"s":"2026"},{"d":85.9,"v":-17,"s":"2026"},{"d":87.3,"v":-13,"s":"2026"},{"d":88.7,"v":-12,"s":"2026"}
          ]},
          "mark": {"type": "line", "strokeWidth": 1.8, "strokeJoin": "round", "clip": false},
          "encoding": {
            "x": {"field": "d", "type": "quantitative", "scale": {"domain": [0, 377], "nice": false, "zero": false},
              "axis": {"values": [0,15,30,45,60,75,90,105,120,135,150,165,180,195,210,225,240,255,270,285,300,315,330,345,360], "tickCount": 40,
                "labelExpr": "['01-01','01-16','01-31','02-15','03-02','03-17','04-01','04-16','05-01','05-16','05-31','06-15','06-30','07-15','07-30','08-14','08-29','09-13','09-28','10-13','10-28','11-12','11-27','12-12','12-27'][round(datum.value/15)]",
                "labelAngle": 270, "labelPadding": 7}},
            "y": {"field": "v", "type": "quantitative", "scale": {"domain": [-40, 40], "nice": false, "zero": false},
              "axis": {"values": [-40,-30,-20,-10,0,10,20,30,40], "tickCount": 20, "labelPadding": 16}},
            "color": {"field": "s", "type": "nominal",
              "scale": {"domain": ["2022","2023","2024","2025","2026"], "range": ["#1A5BAE","#5BB8F5","#F5A930","#111111","#E52428"]},
              "legend": {"orient": "none", "legendX": 59, "legendY": -23, "direction": "horizontal", "title": null, "symbolType": "stroke", "symbolSize": 529, "symbolStrokeWidth": 2, "labelOffset": 2, "columnPadding": 8, "padding": 0}}
          }
        },
        {
          "data": {"values": [{}]},
          "mark": {"type": "rule", "color": "#D9D9D9", "strokeWidth": 1, "clip": false},
          "encoding": {"x": {"datum": 0}, "x2": {"datum": 377}, "y": {"datum": 0}}
        },
        {
          "data": {"values": [{}]},
          "mark": {"type": "rule", "color": "#3A70B5", "strokeWidth": 1.5, "clip": false},
          "encoding": {"x": {"datum": -41}, "x2": {"datum": 389.8}, "y": {"datum": 51.7}}
        },
        {
          "data": {"values": [{}]},
          "mark": {"type": "rule", "color": "#3A70B5", "strokeWidth": 1.5, "clip": false},
          "encoding": {"x": {"datum": -41}, "x2": {"datum": 389.8}, "y": {"datum": -58.6}}
        },
        {
          "data": {"values": [{}]},
          "mark": {"type": "text", "text": "数据来源：Wind，财通证券研究所", "align": "left", "baseline": "middle", "font": "Noto Sans CJK SC", "fontSize": 15, "color": "#7F7F7F", "clip": false},
          "encoding": {"x": {"datum": -41}, "y": {"datum": -64.3}}
        },
        {
          "data": {"values": [{}]},
          "mark": {"type": "text", "text": "亿元", "align": "center", "baseline": "middle", "font": "Noto Sans CJK SC", "fontSize": 12, "color": "#333333", "clip": false},
          "encoding": {"x": {"datum": -15.4}, "y": {"datum": 46.1}}
        }
      ]
    }
  ]
}
